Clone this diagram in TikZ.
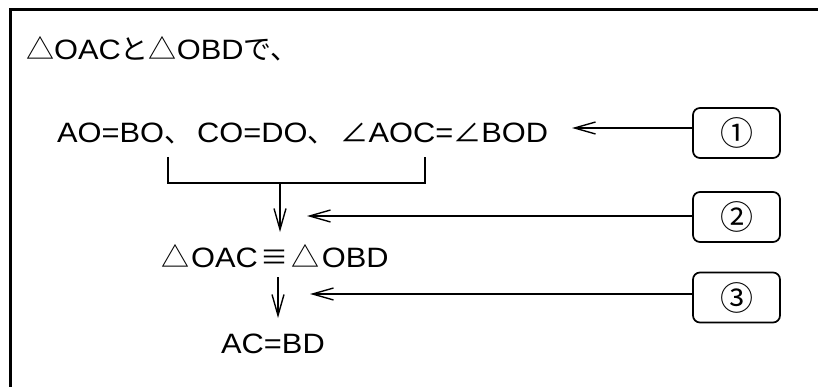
\documentclass[tikz,border=0pt]{standalone}
\usepackage{fontspec}
\setmainfont{Liberation Sans}[FakeStretch=1.1]
\newfontfamily\jp{Noto Sans CJK JP}
\usetikzlibrary{arrows.meta}

\tikzset{
  frameline/.style={line width=2.7pt},
  txt/.style={anchor=base west, inner sep=0pt, font=\fontsize{28}{34}\selectfont},
  numbox/.style={draw, line width=1.7pt, rounded corners=7pt, minimum width=87pt,
    minimum height=50pt, inner sep=0pt, font=\jp\fontsize{33}{36}\selectfont},
  link/.style={line width=2pt},
  pointer/.style={line width=2pt, -{Straight Barb[length=21pt,width=12pt,line width=1.4pt]}}
}

\begin{document}
\begin{tikzpicture}[x=1pt,y=-1pt]
  \useasboundingbox (0,0) rectangle (818,387);

  % open frame: top and left edges
  \draw[frameline] (10.5,387) -- (10.5,9.5) -- (818,9.5);

  % statements
  \node[txt] (l1) at (26,60) {{\jp △}OAC{\jp と△}OBD{\jp で、}};
  \node[txt] (l2) at (57,143) {AO=BO{\jp 、}\kern5pt CO=DO{\jp 、}\kern5pt{\jp ∠}AOC={\jp ∠}BOD};
  \node[txt] (l3) at (161,267) {{\jp △}\kern2pt OAC\kern3pt{\jp ≡}\kern3pt{\jp △}\kern2pt OBD};
  \node[txt] (l4) at (221,353) {AC=BD};

  % reason boxes
  \node[numbox] (b1) at (736.5,133) {①};
  \node[numbox] (b2) at (736.5,217) {②};
  \node[numbox] (b3) at (736.5,297.5) {③};

  % bracket gathering the three conditions
  \coordinate (bl) at (168,157);
  \coordinate (br) at (425,157);
  \coordinate (bm) at (280,183);
  \draw[link] (bl) -- (bl |- bm) -- (br |- bm) -- (br);

  % implication arrows
  \coordinate (d1) at (280,232);
  \draw[pointer] (bm) -- (d1);
  \coordinate (u2) at (278,277);
  \coordinate (d2) at (278,318);
  \draw[pointer] (u2) -- (d2);

  % arrows from the reason boxes
  \coordinate (t1) at (572,128);
  \coordinate (t2) at (307,216);
  \coordinate (t3) at (310,294);
  \draw[pointer] (b1.west |- t1) -- (t1);
  \draw[pointer] (b2.west |- t2) -- (t2);
  \draw[pointer] (b3.west |- t3) -- (t3);
\end{tikzpicture}
\end{document}
